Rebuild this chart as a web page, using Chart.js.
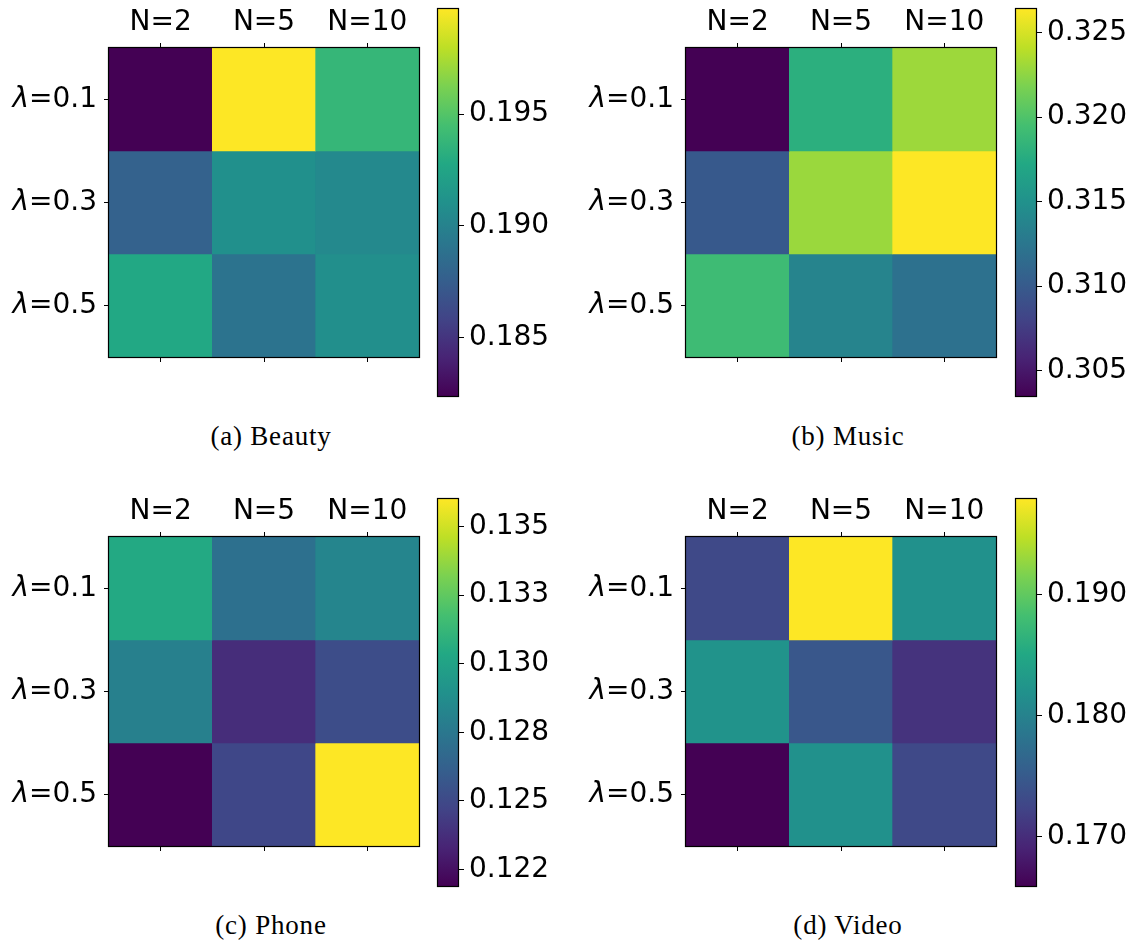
<!DOCTYPE html>
<html>
<head>
<meta charset="utf-8">
<title>Heatmaps: N vs lambda</title>
<script src="https://cdn.jsdelivr.net/npm/chart.js@4.4.1/dist/chart.umd.min.js"></script>
<style>
  html, body { margin: 0; padding: 0; background: #fff; }
  #stage { position: relative; width: 1132px; height: 941px; overflow: hidden; background: #fff; }
  #stage canvas { position: absolute; }
  .caption {
    position: absolute;
    width: 300px;
    text-align: center;
    font-family: "Liberation Serif", "DejaVu Serif", serif;
    font-size: 27px;
    line-height: 27px;
    letter-spacing: 0.8px;
    color: #000;
    white-space: nowrap;
  }
</style>
</head>
<body>
<div id="stage"></div>
<script>
// axis categories
const N_LABELS = ["N=2", "N=5", "N=10"];
const LAMBDA_LABELS = ["λ=0.1", "λ=0.3", "λ=0.5"];

// cell values, one row per lambda, one column per N
const BEAUTY = [
  [0.1824, 0.1997, 0.1938],
  [0.1878, 0.1910, 0.1905],
  [0.1928, 0.1890, 0.1909],
];
const MUSIC = [
  [0.3035, 0.3179, 0.3230],
  [0.3099, 0.3229, 0.3264],
  [0.3191, 0.3138, 0.3120],
];
const PHONE = [
  [0.1304, 0.1271, 0.1283],
  [0.1280, 0.1237, 0.1252],
  [0.1219, 0.1249, 0.1360],
];
const VIDEO = [
  [0.1729, 0.1979, 0.1819],
  [0.1822, 0.1745, 0.1706],
  [0.1659, 0.1819, 0.1729],
];

// colorbar ticks
const BEAUTY_TICKS = [0.185, 0.190, 0.195];
const BEAUTY_TICK_LABELS = ["0.185", "0.190", "0.195"];
const MUSIC_TICKS = [0.305, 0.310, 0.315, 0.320, 0.325];
const MUSIC_TICK_LABELS = ["0.305", "0.310", "0.315", "0.320", "0.325"];
const PHONE_TICKS = [0.1225, 0.125, 0.1275, 0.130, 0.1325, 0.135];
const PHONE_TICK_LABELS = ["0.122", "0.125", "0.128", "0.130", "0.133", "0.135"];
const VIDEO_TICKS = [0.170, 0.180, 0.190];
const VIDEO_TICK_LABELS = ["0.170", "0.180", "0.190"];

const VIRIDIS = [
  "#440154", "#482475", "#414487", "#355f8d", "#2a788e", "#21918c",
  "#22a884", "#44bf70", "#7ad151", "#bddf26", "#fde725",
];

const FONT_FAMILY = "'DejaVu Sans', sans-serif";
const TICK_FONT = { family: FONT_FAMILY, size: 28 };
const HEAT_LEFT = 109;
const HEAT_TOP = 48;
const HEAT_W = 310;
const HEAT_H = 309;
const Y_TICK_LEN = 5;
const Y_TICK_PAD = 7;
const BAR_W = 20;
const BAR_H = 387;
const BAR_AXIS_W = 100;
const BAR_PAD = 40;

const PANELS = [
  { values: BEAUTY, ticks: BEAUTY_TICKS, tickLabels: BEAUTY_TICK_LABELS, caption: "(a) Beauty",
    heat: [0, 0], bar: [438, 9], cap: [271, 423] },
  { values: MUSIC, ticks: MUSIC_TICKS, tickLabels: MUSIC_TICK_LABELS, caption: "(b) Music",
    heat: [577, 0], bar: [1016, 9], cap: [848, 423] },
  { values: PHONE, ticks: PHONE_TICKS, tickLabels: PHONE_TICK_LABELS, caption: "(c) Phone",
    heat: [0, 489], bar: [438, 499], cap: [271, 912] },
  { values: VIDEO, ticks: VIDEO_TICKS, tickLabels: VIDEO_TICK_LABELS, caption: "(d) Video",
    heat: [577, 489], bar: [1016, 499], cap: [848, 912] },
];

function hexToRgb(hex) {
  const n = parseInt(hex.slice(1), 16);
  return [(n >> 16) & 255, (n >> 8) & 255, n & 255];
}

function viridis(t) {
  const c = Math.min(1, Math.max(0, t));
  const pos = c * (VIRIDIS.length - 1);
  const i = Math.min(VIRIDIS.length - 2, Math.floor(pos));
  const f = pos - i;
  const a = hexToRgb(VIRIDIS[i]);
  const b = hexToRgb(VIRIDIS[i + 1]);
  const rgb = a.map((v, k) => Math.round(v + (b[k] - v) * f));
  return `rgb(${rgb[0]},${rgb[1]},${rgb[2]})`;
}

function range(values) {
  const flat = values.flat();
  return [Math.min(...flat), Math.max(...flat)];
}

function addCanvas(left, top, width, height) {
  const canvas = document.createElement("canvas");
  canvas.width = width;
  canvas.height = height;
  canvas.style.left = left + "px";
  canvas.style.top = top + "px";
  canvas.style.width = width + "px";
  canvas.style.height = height + "px";
  document.getElementById("stage").appendChild(canvas);
  return canvas;
}

const tickMarks = (len) => ({
  offset: false,
  drawOnChartArea: false,
  drawTicks: len > 0,
  tickLength: len,
  color: "#000",
  tickColor: "#000",
  tickWidth: 1,
});

function baseOptions() {
  return {
    responsive: false,
    animation: false,
    devicePixelRatio: 1,
    plugins: { legend: { display: false }, tooltip: { enabled: false }, title: { display: false } },
  };
}

// black outline round the plot area, drawn over the cells
const frameBox = {
  id: "frameBox",
  afterDatasetsDraw(chart) {
    const { left, top, right, bottom } = chart.chartArea;
    const ctx = chart.ctx;
    ctx.save();
    ctx.strokeStyle = "#000";
    ctx.lineWidth = 1.2;
    ctx.strokeRect(Math.round(left) - 0.5, Math.round(top) - 0.5,
      Math.round(right - left) + 1, Math.round(bottom - top) + 1);
    ctx.restore();
  },
};

// lambda labels: the greek letter is set oblique like matplotlib mathtext
const lambdaLabels = {
  id: "lambdaLabels",
  afterDraw(chart) {
    const scale = chart.scales.y;
    const ctx = chart.ctx;
    const xRight = scale.right - Y_TICK_LEN - Y_TICK_PAD;
    ctx.save();
    ctx.fillStyle = "#000";
    ctx.textBaseline = "middle";
    ctx.textAlign = "right";
    scale.ticks.forEach((tick, i) => {
      const y = scale.getPixelForTick(i);
      const label = LAMBDA_LABELS[i];
      const sym = label.slice(0, 1);
      const rest = label.slice(1);
      ctx.font = `28px ${FONT_FAMILY}`;
      const restWidth = ctx.measureText(rest).width;
      ctx.fillText(rest, xRight, y);
      ctx.font = `oblique 28px ${FONT_FAMILY}`;
      ctx.fillText(sym, xRight - restWidth, y);
    });
    ctx.restore();
  },
};

function heatmapConfig(values) {
  const [vmin, vmax] = range(values);
  return {
    type: "bar",
    data: {
      labels: N_LABELS,
      // every cell is one stacked unit; its colour comes from the value
      datasets: values.map((row, r) => ({
        label: LAMBDA_LABELS[r],
        data: row.map(() => 1),
        cellValues: row,
        backgroundColor: row.map((v) => viridis((v - vmin) / (vmax - vmin))),
        borderWidth: 0,
        barPercentage: 1,
        categoryPercentage: 1,
      })),
    },
    plugins: [frameBox, lambdaLabels],
    options: {
      ...baseOptions(),
      layout: { padding: 0 },
      scales: {
        x: {
          type: "category",
          position: "top",
          stacked: true,
          offset: true,
          grid: tickMarks(5),
          border: { display: false },
          ticks: { color: "#000", font: TICK_FONT, padding: 3, maxRotation: 0, autoSkip: false },
          afterFit: (s) => { s.height = HEAT_TOP; },
        },
        xb: {
          type: "category",
          position: "bottom",
          labels: N_LABELS,
          offset: true,
          grid: tickMarks(5),
          border: { display: false },
          ticks: { display: false },
          afterFit: (s) => { s.height = 40; },
        },
        y: {
          type: "linear",
          position: "left",
          stacked: true,
          reverse: true,
          min: 0,
          max: LAMBDA_LABELS.length,
          afterBuildTicks: (s) => { s.ticks = LAMBDA_LABELS.map((_, i) => ({ value: i + 0.5 })); },
          grid: tickMarks(Y_TICK_LEN),
          border: { display: false },
          ticks: {
            color: "rgba(0,0,0,0)",
            font: TICK_FONT,
            padding: Y_TICK_PAD,
            autoSkip: false,
            callback: (v, i) => LAMBDA_LABELS[i],
          },
          afterFit: (s) => { s.width = HEAT_LEFT; },
        },
        yr: {
          type: "linear",
          position: "right",
          min: 0,
          max: LAMBDA_LABELS.length,
          grid: tickMarks(0),
          border: { display: false },
          ticks: { display: false },
          afterFit: (s) => { s.width = 10; },
        },
      },
    },
  };
}

function colorbarConfig(values, ticks, tickLabels) {
  const [vmin, vmax] = range(values);
  return {
    type: "bar",
    data: {
      labels: [""],
      datasets: [{
        data: [[vmin, vmax]],
        backgroundColor: (ctx) => {
          const area = ctx.chart.chartArea;
          if (!area) return VIRIDIS[5];
          const g = ctx.chart.ctx.createLinearGradient(0, area.bottom, 0, area.top);
          VIRIDIS.forEach((c, i) => g.addColorStop(i / (VIRIDIS.length - 1), c));
          return g;
        },
        borderWidth: 0,
        barPercentage: 1,
        categoryPercentage: 1,
      }],
    },
    plugins: [frameBox],
    options: {
      ...baseOptions(),
      layout: { padding: { top: BAR_PAD, bottom: BAR_PAD, left: 2, right: 0 } },
      scales: {
        x: { display: false },
        y: {
          type: "linear",
          position: "right",
          min: vmin,
          max: vmax,
          afterBuildTicks: (s) => { s.ticks = ticks.map((v) => ({ value: v })); },
          grid: tickMarks(6),
          border: { display: false },
          ticks: {
            color: "#000",
            font: TICK_FONT,
            padding: 5,
            autoSkip: false,
            callback: (v, i) => tickLabels[i],
          },
          afterFit: (s) => { s.width = BAR_AXIS_W; },
        },
      },
    },
  };
}

function renderPanel(p) {
  const heatCanvas = addCanvas(p.heat[0], p.heat[1], HEAT_LEFT + HEAT_W + 10, HEAT_TOP + HEAT_H + 40);
  new Chart(heatCanvas, heatmapConfig(p.values));

  const barCanvas = addCanvas(p.bar[0] - 2, p.bar[1] - BAR_PAD, BAR_W + 2 + BAR_AXIS_W, BAR_H + 2 * BAR_PAD);
  new Chart(barCanvas, colorbarConfig(p.values, p.ticks, p.tickLabels));

  const cap = document.createElement("div");
  cap.className = "caption";
  cap.textContent = p.caption;
  cap.style.left = (p.cap[0] - 150) + "px";
  cap.style.top = p.cap[1] + "px";
  document.getElementById("stage").appendChild(cap);
}

PANELS.forEach(renderPanel);
</script>
</body>
</html>
